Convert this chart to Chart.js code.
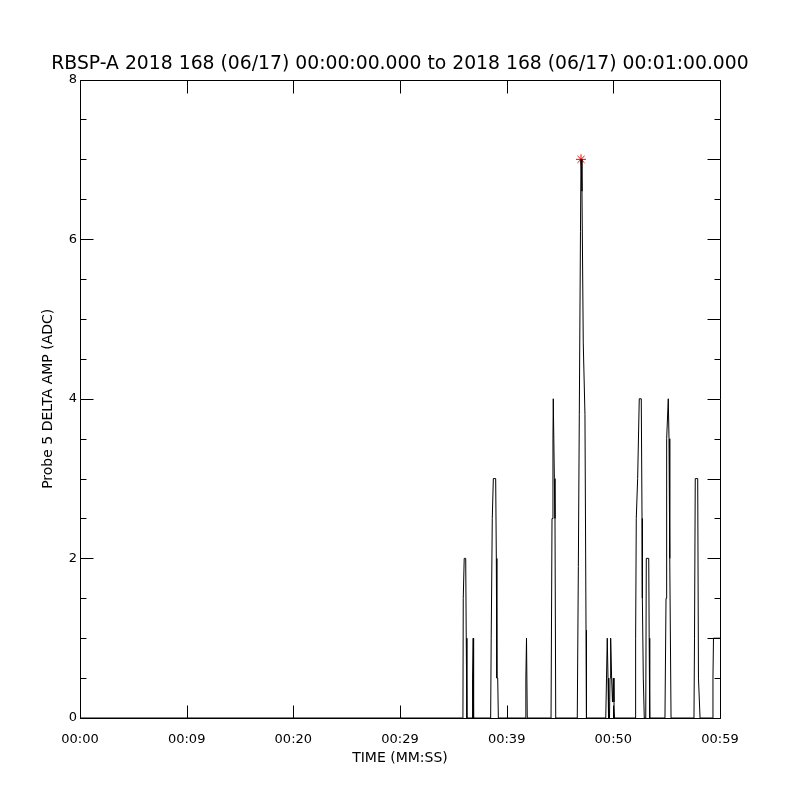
<!DOCTYPE html>
<html>
<head>
<meta charset="utf-8">
<title>RBSP-A Probe 5 DELTA AMP</title>
<script src="https://cdn.jsdelivr.net/npm/chart.js@4.4.1/dist/chart.umd.min.js"></script>
<style>
  html, body { margin: 0; padding: 0; background: #ffffff; }
  canvas { display: block; }
</style>
</head>
<body>
<canvas id="ampChart" width="800" height="800"></canvas>
<script>
//******************************************************************************
//                               Chart data
//  time in seconds from 00:00:00 and amplitude in ADC counts
//******************************************************************************
const sampleTimes = [
  0,
  35.90, 35.93, 36.02, 36.16, 36.21, 36.27,
  36.75, 36.80, 36.86, 36.90,
  38.50, 38.55, 38.65, 38.75, 38.97, 39.03, 39.08, 39.16, 39.22,
  41.75, 41.80, 41.86, 41.93,
  44.16, 44.25, 44.34, 44.37, 44.47, 44.53, 44.60,
  46.62, 46.72, 46.81, 46.92, 46.97, 47.06, 47.18, 47.34, 47.44, 47.48,
  49.29, 49.36, 49.43, 49.50, 49.55,
  49.64, 49.69, 49.75, 49.84, 49.92, 50.00, 50.06, 50.11,
  52.06, 52.09, 52.15, 52.28, 52.43, 52.62, 52.69, 52.72, 52.81, 52.90,
  53.04, 53.09, 53.32, 53.36, 53.41,
  54.84, 54.94, 54.97, 55.03, 55.15, 55.22, 55.27, 55.31, 55.41,
  57.56, 57.61, 57.68, 57.91, 57.98, 58.13,
  59.28, 59.34, 59.39, 60.00
];
const deltaAmp = [
  0,
  0, 1.5, 2, 2, 1, 0,
  0, 0.5, 1, 0,
  0, 1, 2.5, 3, 3, 2, 0.5, 0.5, 0,
  0, 0.5, 1, 0,
  0, 2.5, 3.5, 4, 3, 2.5, 0,
  0, 1.9, 3.8, 6.1, 7, 6.6, 4.7, 3.8, 1.1, 0,
  0, 0.5, 1, 0.5, 0,
  0, 0.5, 1, 0.5, 0.2, 0.5, 0.2, 0,
  0, 1, 2.5, 3, 4, 4, 2.5, 1.5, 0.5, 0,
  0, 2, 2, 1, 0,
  0, 1.5, 2, 3.5, 4, 3.5, 3, 2, 0,
  0, 1, 3, 3, 0.5, 0,
  0, 0.5, 1, 1
];
const timeTicks = [0, 10, 20, 30, 40, 50, 60];
const timeLabels = ['00:00', '00:09', '00:20', '00:29', '00:39', '00:50', '00:59'];
const ampTicks = [0, 2, 4, 6, 8];

const titleText = 'RBSP-A 2018 168 (06/17) 00:00:00.000 to 2018 168 (06/17) 00:01:00.000';

//  build the point list and find the maximum (marked with a red star)
let linePoints = [];
let peakIndex = 0;
for (let i = 0; i < sampleTimes.length; i++) {
  linePoints.push({ x: sampleTimes[i], y: deltaAmp[i] });
  if (deltaAmp[i] > deltaAmp[peakIndex]) {
    peakIndex = i;
  }
}
const peakPoint = [{ x: sampleTimes[peakIndex], y: deltaAmp[peakIndex] }];

//******************************************************************************
//                          IDL style box plugin
//  draws the frame plus inward ticks on all four sides
//******************************************************************************
const boxTicks = {
  id: 'boxTicks',
  afterDatasetsDraw(chart) {
    const ctx = chart.ctx;
    const area = chart.chartArea;
    const xs = chart.scales.x;
    const ys = chart.scales.y;
    const left = Math.round(area.left) + 0.5;
    const right = Math.round(area.right) + 0.5;
    const top = Math.round(area.top) + 0.5;
    const bottom = Math.round(area.bottom) + 0.5;

    ctx.save();
    ctx.strokeStyle = '#000000';
    ctx.lineWidth = 1;
    ctx.beginPath();
    ctx.rect(left, top, right - left, bottom - top);

    for (let t of timeTicks) {
      let px = Math.round(xs.getPixelForValue(t)) + 0.5;
      ctx.moveTo(px, bottom);
      ctx.lineTo(px, bottom - 13);
      ctx.moveTo(px, top);
      ctx.lineTo(px, top + 13);
    }

    for (let v = 0; v <= 8; v += 0.5) {
      let py = Math.round(ys.getPixelForValue(v)) + 0.5;
      let leftLen = (v % 2 === 0) ? 13 : 6;
      let rightLen = (v % 1 === 0) ? 13 : 6;
      ctx.moveTo(left, py);
      ctx.lineTo(left + leftLen, py);
      ctx.moveTo(right, py);
      ctx.lineTo(right - rightLen, py);
    }
    ctx.stroke();
    ctx.restore();
  }
};

const tickFont = { family: 'DejaVu Sans', size: 13 };
const labelFont = { family: 'DejaVu Sans', size: 14 };

let ampChart = new Chart(document.getElementById('ampChart').getContext('2d'), {
  type: 'line',
  data: {
    datasets: [
      {
        data: linePoints,
        borderColor: '#000000',
        borderWidth: 1,
        pointRadius: 0,
        tension: 0,
        fill: false
      },
      {
        type: 'scatter',
        data: peakPoint,
        pointStyle: 'star',
        pointRadius: 5,
        borderColor: '#ff0000',
        backgroundColor: '#ff0000',
        borderWidth: 1
      }
    ]
  },
  options: {
    responsive: false,
    animation: false,
    events: [],
    layout: { padding: 0 },
    plugins: {
      legend: { display: false },
      tooltip: { enabled: false },
      title: {
        display: true,
        text: titleText,
        color: '#000000',
        font: { family: 'DejaVu Sans', size: 18.8, weight: 'normal' },
        padding: { top: 53, bottom: 4 }
      }
    },
    scales: {
      x: {
        type: 'linear',
        min: 0,
        max: 60,
        afterBuildTicks: (scale) => {
          scale.ticks = timeTicks.map(v => ({ value: v }));
        },
        afterFit: (scale) => { scale.height = 82; },
        grid: { display: false, drawTicks: false },
        border: { display: false },
        ticks: {
          color: '#000000',
          font: tickFont,
          padding: 14,
          maxRotation: 0,
          autoSkip: false,
          callback: (value, index) => timeLabels[index]
        },
        title: {
          display: true,
          text: 'TIME (MM:SS)',
          color: '#000000',
          font: labelFont,
          padding: { top: 0, bottom: 33 }
        }
      },
      y: {
        type: 'linear',
        min: 0,
        max: 8,
        afterBuildTicks: (scale) => {
          scale.ticks = ampTicks.map(v => ({ value: v }));
        },
        afterFit: (scale) => { scale.width = 80; },
        grid: { display: false, drawTicks: false },
        border: { display: false },
        ticks: {
          color: '#000000',
          font: tickFont,
          padding: 3
        },
        title: {
          display: true,
          text: 'Probe 5 DELTA AMP (ADC)',
          color: '#000000',
          font: labelFont,
          padding: { top: 40, bottom: 0 }
        }
      },
      // empty right axis, only keeps an 80px margin so the title stays centred
      yRight: {
        type: 'linear',
        position: 'right',
        min: 0,
        max: 8,
        afterFit: (scale) => { scale.width = 80; },
        grid: { display: false, drawTicks: false },
        border: { display: false },
        ticks: { display: false }
      }
    }
  },
  plugins: [boxTicks]
});
</script>
</body>
</html>
